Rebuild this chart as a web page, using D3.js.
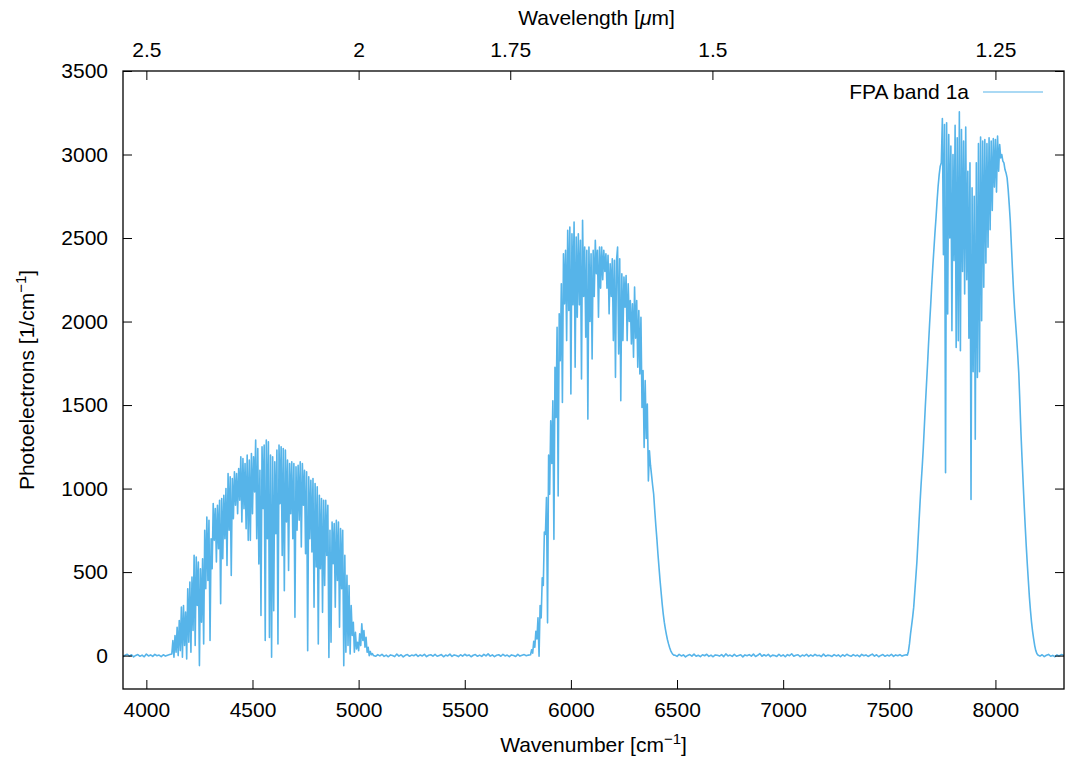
<!DOCTYPE html>
<html>
<head>
<meta charset="utf-8">
<script src="https://cdn.jsdelivr.net/npm/d3@7"></script>
<style>
  body { margin: 0; background: #fff; }
  svg text { font-family: "Liberation Sans", Arial, Helvetica, sans-serif; font-size: 21px; fill: #000; }
</style>
</head>
<body>
<svg id="chart" width="1065" height="762"></svg>
<script>
// ticks
const ticksNumeroOnda = [4000, 4500, 5000, 5500, 6000, 6500, 7000, 7500, 8000];
const ticksFotoelectrones = [0, 500, 1000, 1500, 2000, 2500, 3000, 3500];
const ticksLongitud = [2.5, 2, 1.75, 1.5, 1.25];
const etiquetasLongitud = ["2.5", "2", "1.75", "1.5", "1.25"];

// espectro: [inicio cm-1, paso cm-1]
const baseA = [4, -6, 2, 8, -3, 5, -8, 1, 6, -4, 3, -7, 9, -2, 4, -5, 7, -1, 3, -6, 5, -3, 2, 6];
const inicioBaseA = [3880, 10];

const banda1 = [
  10, 90, -10, 120, 20, 170, 0, 210, 30, 290,
  -10, 300, 60, 260, -20, 400, 80, 440, 20, 470,
  150, 600, 60, 590, 300, 560, -60, 520, 200, 580,
  70, 750, 400, 830, 450, 810, 90, 700, 520, 910,
  690, 880, 560, 900, 640, 930, 310, 940, 580, 960,
  700, 1000, 540, 1090, 750, 1070, 480, 1060, 820, 1100,
  900, 1090, 850, 1120, 930, 1190, 800, 1180, 880, 1150,
  760, 1200, 690, 1170, 690, 1210, 850, 1190, 980, 1290,
  700, 1240, 549, 1110, 240, 1250, 880, 1260, 90, 1290,
  700, 1280, 109, 1200, -10, 1190, 269, 1160, 730, 1230,
  69, 1260, 910, 1250, 600, 1240, 389, 1230, 800, 1170,
  510, 1150, 850, 1160, 700, 1150, 229, 1130, 750, 1140,
  810, 1160, 650, 1150, 900, 1110, 610, 1100, 29, 1070,
  700, 1050, 620, 1060, 290, 1030, 530, 1010, 69, 960,
  520, 940, 259, 930, 420, 930, 600, 900, -11, 750,
  80, 800, 550, 790, 290, 810, 450, 800, 170, 760,
  400, 750, -61, 600, 20, 480, 60, 420, 10, 300,
  120, 200, 20, 140, 40, 80, 30, 130, 60, 190,
  90, 150, 50, 110, 20, 50, 0, 25, 5, 12,
  0
];
const inicioBanda1 = [4120, 5];

const baseB = [
  -4, 6, -2, 8, -5, 3, -7, 4, 1, -6,
  9, -3, 5, -8, 2, 6, -4, 3, -1, 7,
  -5, 4, -2, 8, -6, 2, 5, -3, 7, -4,
  1, 6, -7, 3, -2, 9, -5, 4, 0, -6,
  5, -3, 8, -1, 4, -7, 2, 6, -4, 3,
  -5, 7, -2, 10, -3, 4, -6, 2, 5, -4,
  8, -2, 3, -6, 4, 1, -5, 7, -3, 2,
  6, -1, 3
];
const inicioBaseB = [5080, 10];

const banda2 = [
  5, 35, 15, 86, 50, 146, 100, 226, -4, 300,
  226, 466, 420, 740, 726, 946, 196, 1200, 966, 1406,
  1150, 1526, 696, 1726, 1426, 1966, 956, 2046, 1766, 2226,
  1516, 2406, 2106, 2426, 1886, 2546, 2066, 2566, 1566, 2526,
  2100, 2596, 1726, 2506, 2026, 2526, 2100, 2486, 1656, 2606,
  2150, 2446, 1906, 2426, 1416, 2446, 2000, 2406, 1776, 2426,
  2150, 2486, 2286, 2426, 2026, 2446, 2200, 2446, 2250, 2426,
  2300, 2406, 2200, 2396, 2046, 2346, 2150, 2376, 1886, 2366,
  1666, 2366, 2446, 1806, 2376, 1526, 2286, 1886, 2266, 2086,
  2276, 1886, 2226, 2000, 2126, 1866, 2106, 1786, 2206, 1900,
  2126, 1726, 2066, 1686, 2026, 1486, 1706, 1246, 1646, 1300,
  1506, 1046, 1226, 1140, 1080, 1020, 966, 870, 780, 700,
  610, 530, 450, 380, 310, 250, 200, 160, 126, 95,
  70, 48, 30, 18, 8, 2
];
const inicioBanda2 = [5810, 5];

const baseC = [
  3, -5, 7, -2, 4, -8, 1, 6, -3, 9,
  -4, 2, -6, 5, -1, 8, -5, 3, -7, 4,
  2, -3, 6, -6, 10, -2, 3, -5, 7, -4,
  1, 5, -8, 4, -1, 6, -3, 9, -5, 2,
  12, -4, 5, -2, 7, -6, 3, 1, -5, 8,
  -3, 4, -7, 6, -1, 11, -4, 2, 5, -6,
  3, -2, 8, -5, 4, -3, 7, -1, 2, -6,
  9, -4, 3, 1, -5, 6, -2, 4, -7, 5,
  -3, 8, 0, -4, 6, -2, 3, -6, 7, -1,
  4, -5, 2, 9, -3, 5, -7, 1, 6, -4,
  3, -2, 8, -5, 4, -1, 6, -3, 2, 5
];
const inicioBaseC = [6490, 10];

const banda3 = [
  // subida
  2, 25, 70, 130, 180, 230, 290, 380, 470, 560,
  680, 800, 920, 1030, 1130, 1240, 1370, 1500, 1620, 1740,
  1870, 1990, 2100, 2220, 2330, 2430, 2530, 2620, 2720, 2810,
  2880, 2930,
  // zona con absorciones
  2950, 3215, 2400, 3180, 1095, 3190, 2045, 3120, 2500, 3050,
  1945, 3000, 2365, 3175, 1845, 3100, 1885, 3255, 1825, 3150,
  2300, 3080, 2165, 3165, 2250, 2900, 1900, 2950, 935, 2800,
  1700, 2750, 1295, 2950, 1665, 3065, 1700, 3105, 2005, 3080,
  2205, 3090, 2350, 3065, 2445, 3100, 2550, 3080, 2665, 3095,
  2805, 3090, 2775, 3110, 2900, 3060, 2980, 3000, 2960, 2950,
  2910, 2890,
  // bajada
  2860, 2790, 2700, 2600, 2460, 2320, 2190, 2080, 1990, 1900,
  1800, 1690, 1520, 1340, 1190, 1050, 910, 780, 660, 550,
  450, 350, 270, 200, 145, 100, 60, 30, 12, 4
];
const inicioBanda3 = [7585, 5];

const baseD = [-3, 5, -6, 2, 7, -4, 1, -7, 4, -2, 6, 3, -1];
const inicioBaseD = [8210, 10];

const segmentos = [
  [inicioBaseA, baseA],
  [inicioBanda1, banda1],
  [inicioBaseB, baseB],
  [inicioBanda2, banda2],
  [inicioBaseC, baseC],
  [inicioBanda3, banda3],
  [inicioBaseD, baseD]
];

const puntos = segmentos.flatMap(([[inicio, paso], valores]) =>
  valores.map((v, i) => ({ wn: inicio + i * paso, v }))
);

const colorLinea = "#56b4e9";
const izq = 123, der = 1064, arriba = 71, abajo = 689;

const svg = d3.select("#chart");

const x = d3.scaleLinear().domain([3890, 8323]).range([izq, der]);
const y = d3.scaleLinear().domain([-200, 3500]).range([abajo, arriba]);

svg.append("clipPath")
  .attr("id", "recorte")
  .append("rect")
  .attr("x", izq).attr("y", arriba)
  .attr("width", der - izq).attr("height", abajo - arriba);

// curva
svg.append("path")
  .datum(puntos)
  .attr("clip-path", "url(#recorte)")
  .attr("fill", "none")
  .attr("stroke", colorLinea)
  .attr("stroke-width", 1.6)
  .attr("stroke-linejoin", "round")
  .attr("d", d3.line().x(d => x(d.wn)).y(d => y(d.v)));

function limpiarEje(g) {
  g.select(".domain").remove();
  g.selectAll(".tick line").attr("stroke", "#000").attr("stroke-width", 1);
  g.selectAll(".tick text").attr("fill", "#000").style("font-size", "21px");
}

// eje inferior (número de onda)
svg.append("g")
  .attr("transform", `translate(0,${abajo})`)
  .call(d3.axisBottom(x).tickValues(ticksNumeroOnda).tickSize(-9).tickPadding(13).tickFormat(d3.format("d")))
  .call(limpiarEje);

// eje superior (longitud de onda)
svg.append("g")
  .attr("transform", `translate(0,${arriba})`)
  .call(d3.axisTop(x).tickValues(ticksLongitud.map(l => 1e4 / l)).tickSize(-9).tickPadding(14)
    .tickFormat((d, i) => etiquetasLongitud[i]))
  .call(limpiarEje);

// eje izquierdo
svg.append("g")
  .attr("transform", `translate(${izq},0)`)
  .call(d3.axisLeft(y).tickValues(ticksFotoelectrones).tickSize(-9).tickPadding(15).tickFormat(d3.format("d")))
  .call(limpiarEje);

// espejo derecho
svg.append("g")
  .attr("transform", `translate(${der},0)`)
  .call(d3.axisRight(y).tickValues(ticksFotoelectrones).tickSize(-9).tickFormat(""))
  .call(limpiarEje);

// marco
svg.append("rect")
  .attr("x", izq).attr("y", arriba)
  .attr("width", der - izq).attr("height", abajo - arriba)
  .attr("fill", "none").attr("stroke", "#000").attr("stroke-width", 1.3);

// títulos
const tituloX = svg.append("text")
  .attr("x", (izq + der) / 2).attr("y", 752)
  .attr("text-anchor", "middle");
tituloX.append("tspan").text("Wavenumber [cm");
tituloX.append("tspan").attr("dy", -8).style("font-size", "15px").text("−1");
tituloX.append("tspan").attr("dy", 8).text("]");

const tituloX2 = svg.append("text")
  .attr("x", (izq + der) / 2 + 3).attr("y", 25)
  .attr("text-anchor", "middle");
tituloX2.append("tspan").text("Wavelength [");
tituloX2.append("tspan").style("font-style", "italic").text("μ");
tituloX2.append("tspan").text("m]");

const tituloY = svg.append("text")
  .attr("transform", `translate(34,${(arriba + abajo) / 2}) rotate(-90)`)
  .attr("text-anchor", "middle");
tituloY.append("tspan").text("Photoelectrons [1/cm");
tituloY.append("tspan").attr("dy", -8).style("font-size", "15px").text("−1");
tituloY.append("tspan").attr("dy", 8).text("]");

// leyenda
svg.append("text")
  .attr("x", 969).attr("y", 99)
  .attr("text-anchor", "end")
  .text("FPA band 1a");
svg.append("line")
  .attr("x1", 983).attr("x2", 1043)
  .attr("y1", 92).attr("y2", 92)
  .attr("stroke", colorLinea).attr("stroke-width", 1.2);
</script>
</body>
</html>
